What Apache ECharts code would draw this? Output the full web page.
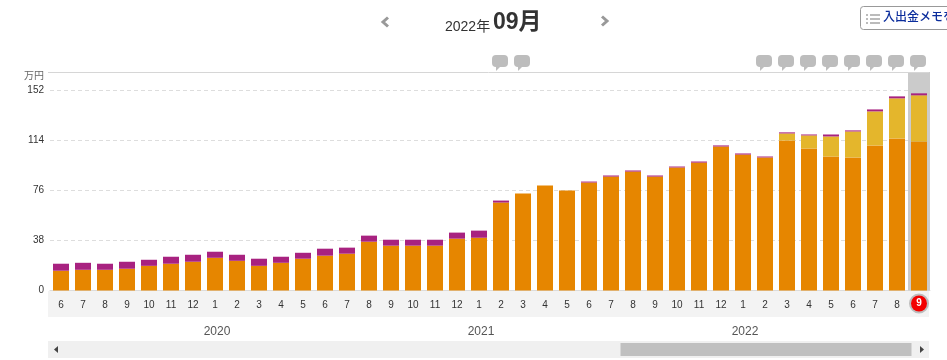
<!DOCTYPE html>
<html>
<head>
<meta charset="utf-8">
<style>
    html, body { margin: 0; padding: 0; background: #fff; overflow: hidden; }
    #chart_container { width: 947px; height: 360px; }
</style>
<script src="https://cdn.jsdelivr.net/npm/echarts@6/dist/echarts.min.js"></script>
</head>
<body>
<div id="chart_container"></div>
<script>
const monthLabels = ['6','7','8','9','10','11','12','1','2','3','4','5','6','7','8','9','10','11','12','1','2','3','4','5','6','7','8','9','10','11','12','1','2','3','4','5','6','7','8','9'];
const yearIndexes = [7, 19, 31];
const yearNames = ['2020', '2021', '2022'];
const orangeValues = [15,15.7,15.7,16.5,18.7,20.3,21.8,24.8,22.5,18.7,21,24.1,26.4,27.9,37,34,34,34,39.3,40,66.7,73.5,79.6,75.8,81.9,86.4,90.2,86.4,93.3,97,109.2,103.1,100.9,113.8,107.7,101.6,100.9,110,115.3,113];
const yellowValues = [0,0,0,0,0,0,0,0,0,0,0,0,0,0,0,0,0,0,0,0,0,0,0,0,0,0,0,0,0,0,0,0,0,5.3,9.9,15.2,19.7,25.8,30.4,35];
const purpleValues = [5.3,5.3,4.6,5.3,4.6,5.3,5.3,4.6,4.6,5.4,4.6,4.5,5.3,4.6,4.6,4.5,4.5,4.5,4.6,5.4,1.5,0,0,0,0.7,0.8,0.8,0.8,0.7,0.8,0.8,0.8,0.7,0.8,0.7,1.5,0.8,1.5,1.5,1.5];
const memoIndexes = [20, 21, 32, 33, 34, 35, 36, 37, 38, 39];
const selectedIndex = 39;
const yTop = 165.68;

const latin = 'Liberation Sans, Arial, sans-serif';
const cjk = 'Liberation Sans, Noto Sans CJK JP, sans-serif';

// 年ラベルは1月の位置にだけ出す
const yearAxisData = monthLabels.map(function (m, i) {
    const k = yearIndexes.indexOf(i);
    return k >= 0 ? yearNames[k] : '';
});

function stackSeries(name, values, color) {
    return {
        name: name,
        type: 'bar',
        stack: 'total',
        barWidth: 16,
        z: 3,
        itemStyle: { color: color },
        data: values
    };
}

var dom = document.getElementById('chart_container');
var myChart = echarts.init(dom, null, { renderer: 'canvas' });

var option = {
    animation: false,
    grid: { left: 50, top: 72, width: 880, height: 218.5, containLabel: false },
    xAxis: [
        {
            type: 'category',
            data: monthLabels,
            axisLine: { show: true, lineStyle: { color: '#dcdcdc', width: 1 } },
            axisTick: { show: false },
            axisLabel: {
                interval: 0,
                margin: 5,
                fontSize: 10,
                fontFamily: latin,
                color: '#333',
                formatter: function (value, index) {
                    return index === selectedIndex ? '{sel|' + value + '}' : '{n|' + value + '}';
                },
                rich: {
                    n: {
                        height: 20,
                        lineHeight: 20,
                        fontSize: 10,
                        fontFamily: latin,
                        color: '#333'
                    },
                    sel: {
                        backgroundColor: '#f30000',
                        borderColor: '#bdbdbd',
                        borderWidth: 2,
                        borderRadius: 10,
                        width: 16,
                        height: 16,
                        lineHeight: 16,
                        align: 'center',
                        color: '#fff',
                        fontWeight: 'bold',
                        fontSize: 10,
                        fontFamily: latin
                    }
                }
            }
        },
        {
            type: 'category',
            position: 'bottom',
            offset: 35,
            data: yearAxisData,
            axisLine: { show: false },
            axisTick: { show: false },
            axisLabel: {
                interval: 0,
                margin: 0,
                padding: [0, 0, 0, 4],
                fontSize: 12,
                fontFamily: latin,
                color: '#555'
            }
        }
    ],
    yAxis: {
        type: 'value',
        min: 0,
        max: yTop,
        interval: 38,
        axisLine: { show: false },
        axisTick: { show: false },
        axisLabel: {
            margin: 6,
            fontSize: 10,
            fontFamily: latin,
            color: '#333',
            showMaxLabel: false
        },
        splitLine: { lineStyle: { color: '#dddddd', type: [4, 3], width: 1 } }
    },
    series: [
        {
            name: 'selected',
            type: 'bar',
            xAxisIndex: 1,
            barWidth: '100%',
            z: 1,
            silent: true,
            itemStyle: { color: '#cbcbcb' },
            data: monthLabels.map(function (m, i) {
                return i === selectedIndex ? yTop : null;
            })
        },
        stackSeries('orange', orangeValues, '#e68600'),
        stackSeries('yellow', yellowValues, '#e4b62c'),
        stackSeries('purple', purpleValues, '#a82280'),
        {
            name: 'memo',
            type: 'scatter',
            clip: false,
            z: 4,
            symbol: 'path://M4 0H12A4 4 0 0 1 16 4V8A4 4 0 0 1 12 12H8L4 16V12A4 4 0 0 1 0 8V4A4 4 0 0 1 4 0Z',
            symbolSize: [16, 16],
            symbolOffset: [-1, -9],
            itemStyle: { color: '#bdbdbd', opacity: 1 },
            data: memoIndexes.map(function (i) {
                return [i, yTop];
            })
        }
    ],
    graphic: [
        // 月ラベルの帯
        { type: 'rect', z: -1, shape: { x: 48, y: 291, width: 881, height: 26 }, style: { fill: '#f3f3f3' } },
        // 上端の線
        { type: 'line', z: 5, shape: { x1: 48, y1: 72.5, x2: 929, y2: 72.5 }, style: { stroke: '#d6d6d6', lineWidth: 1 } },
        { type: 'text', left: 24, top: 71, style: { text: '万円', fontSize: 10, fontFamily: cjk, fill: '#666' } },

        // タイトル
        { type: 'text', left: 445, top: 20, style: { text: '2022年', fontSize: 14, fontFamily: cjk, fill: '#333' } },
        { type: 'text', left: 493, top: 11, style: { text: '09月', fontSize: 23, fontWeight: 'bold', fontFamily: cjk, fill: '#333' } },
        { type: 'polyline', shape: { points: [[388, 17.5], [383, 22], [388, 26.5]] }, style: { stroke: '#999', lineWidth: 3, fill: null } },
        { type: 'polyline', shape: { points: [[602, 16.5], [607, 21], [602, 25.5]] }, style: { stroke: '#999', lineWidth: 3, fill: null } },

        // 入出金メモボタン
        { type: 'rect', shape: { x: 860.5, y: 6.5, width: 110, height: 23, r: 3 }, style: { fill: '#fff', stroke: '#999', lineWidth: 1 } },
        { type: 'rect', shape: { x: 866, y: 14, width: 2, height: 2 }, style: { fill: '#bbb' } },
        { type: 'rect', shape: { x: 866, y: 18, width: 2, height: 2 }, style: { fill: '#bbb' } },
        { type: 'rect', shape: { x: 866, y: 22, width: 2, height: 2 }, style: { fill: '#bbb' } },
        { type: 'rect', shape: { x: 870, y: 14, width: 10, height: 2 }, style: { fill: '#bbb' } },
        { type: 'rect', shape: { x: 870, y: 18, width: 10, height: 2 }, style: { fill: '#bbb' } },
        { type: 'rect', shape: { x: 870, y: 22, width: 10, height: 2 }, style: { fill: '#bbb' } },
        { type: 'text', left: 883, top: 12, style: { text: '入出金メモを', fontSize: 12, fontWeight: 500, fontFamily: cjk, fill: '#0b2d9c' } },

        // スクロールバー
        { type: 'rect', shape: { x: 48, y: 341, width: 881, height: 17 }, style: { fill: '#f0f0f0' } },
        { type: 'rect', shape: { x: 620.5, y: 343, width: 291, height: 13 }, style: { fill: '#c0c0c0' } },
        { type: 'polygon', shape: { points: [[54, 349.5], [58, 346], [58, 353]] }, style: { fill: '#444' } },
        { type: 'polygon', shape: { points: [[924, 349.5], [920, 346], [920, 353]] }, style: { fill: '#444' } }
    ]
};

myChart.setOption(option);
</script>
</body>
</html>
